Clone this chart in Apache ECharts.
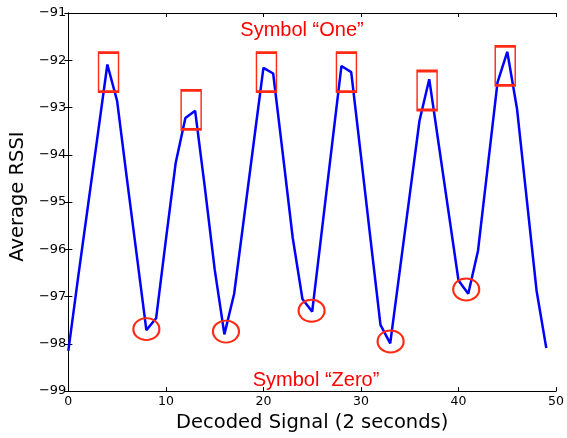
<!DOCTYPE html>
<html>
<head>
<meta charset="utf-8">
<script src="https://cdn.jsdelivr.net/npm/echarts@6/dist/echarts.min.js"></script>
<style>
html,body{margin:0;padding:0;background:#fff;}
#chart{width:567px;height:438px;}
</style>
</head>
<body>
<div id="chart"></div>
<script>
// Average RSSI sampled at x = 0..49
var rssi = [
  -98.15, -96.6, -95.1, -93.6, -92.09, -92.86, -94.5, -96.1, -97.71, -97.46,
  -95.8, -94.18, -93.22, -93.07, -94.7, -96.42, -97.8, -96.94, -95.35, -93.75,
  -92.16, -92.28, -94.0, -95.75, -97.05, -97.32, -95.59, -93.85, -92.12, -92.25,
  -94.03, -95.82, -97.6, -97.99, -96.42, -94.85, -93.28, -92.4, -93.82, -95.24,
  -96.66, -96.94, -96.03, -94.25, -92.47, -91.82, -93.03, -94.95, -96.87, -98.09
];
// annotation positions (data coordinates)
var oneMarksX = [4.12, 12.59, 20.31, 28.51, 36.78, 44.79];
var oneMarksY = [-92.25, -93.05, -92.25, -92.25, -92.64, -92.12];
var zeroMarksX = [8.0, 16.16, 24.94, 33.04, 40.79];
var zeroMarksY = [-97.69, -97.74, -97.30, -97.95, -96.85];
var xTicks = [0, 10, 20, 30, 40, 50];
var yTicks = [-99, -98, -97, -96, -95, -94, -93, -92, -91];

var lineData = rssi.map(function (v, i) { return [i, v]; });
var oneData = oneMarksX.map(function (x, i) { return [x, oneMarksY[i]]; });
var zeroData = zeroMarksX.map(function (x, i) { return [x, zeroMarksY[i]]; });

var FONT = 'DejaVu Sans';
function minusFmt(v) { return String(v).replace('-', '\u2212'); }

var chart = echarts.init(document.getElementById('chart'), null, {renderer: 'canvas'});
var baseAxisLine = {show: true, lineStyle: {color: '#000', width: 1}};
var tickIn = {show: true, inside: true, length: 4, lineStyle: {color: '#000', width: 1}};

chart.setOption({
  animation: false,
  backgroundColor: '#fff',
  grid: {left: 65, top: 13, width: 494, height: 382, show: false},
  xAxis: [{
    type: 'value', min: xTicks[0], max: xTicks[xTicks.length - 1], interval: 10, position: 'bottom',
    axisLine: baseAxisLine, axisTick: tickIn, splitLine: {show: false},
    axisLabel: {color: '#000', fontFamily: FONT, fontSize: 12.5, margin: 4, formatter: minusFmt},
    name: 'Decoded Signal (2 seconds)', nameLocation: 'middle', nameGap: 18,
    nameTextStyle: {color: '#000', fontFamily: FONT, fontSize: 19.5}
  }, {
    type: 'value', min: xTicks[0], max: xTicks[xTicks.length - 1], interval: 10, position: 'top',
    axisLine: baseAxisLine, axisTick: tickIn, splitLine: {show: false},
    axisLabel: {show: false}
  }],
  yAxis: [{
    type: 'value', min: yTicks[0], max: yTicks[yTicks.length - 1], interval: 1, position: 'left',
    axisLine: baseAxisLine, axisTick: tickIn, splitLine: {show: false},
    axisLabel: {color: '#000', fontFamily: FONT, fontSize: 13, margin: 2, formatter: minusFmt},
    name: 'Average RSSI', nameLocation: 'middle', nameGap: 38, nameRotate: 90,
    nameTextStyle: {color: '#000', fontFamily: FONT, fontSize: 19.5, padding: [0, 0, 0, 11]}
  }, {
    type: 'value', min: yTicks[0], max: yTicks[yTicks.length - 1], interval: 1, position: 'right',
    axisLine: baseAxisLine, axisTick: tickIn, splitLine: {show: false},
    axisLabel: {show: false}
  }],
  series: [{
    type: 'line', data: lineData, xAxisIndex: 0, yAxisIndex: 0,
    symbol: 'none', lineStyle: {color: '#0000ff', width: 2.5}, silent: true, z: 2
  }, {
    type: 'scatter', data: oneData, xAxisIndex: 0, yAxisIndex: 0,
    symbol: 'rect', symbolSize: [20, 39], silent: true, z: 3,
    itemStyle: {color: 'rgba(0,0,0,0)', borderColor: '#ff2a14', borderWidth: 2, opacity: 1}
  }, {
    type: 'scatter', data: zeroData, xAxisIndex: 0, yAxisIndex: 0,
    symbol: 'circle', symbolSize: [26, 22], silent: true, z: 3,
    itemStyle: {color: 'rgba(0,0,0,0)', borderColor: '#ff2a14', borderWidth: 2, opacity: 1}
  }],
  graphic: [{
    type: 'text', x: 302, y: 30, silent: true,
    style: {text: 'Symbol \u201cOne\u201d', fill: '#ff0000', font: '20px "Liberation Sans"', textAlign: 'center', textVerticalAlign: 'middle'}
  }, {
    type: 'text', x: 316, y: 380, silent: true,
    style: {text: 'Symbol \u201cZero\u201d', fill: '#ff0000', font: '20px "Liberation Sans"', textAlign: 'center', textVerticalAlign: 'middle'}
  }]
});
</script>
</body>
</html>
